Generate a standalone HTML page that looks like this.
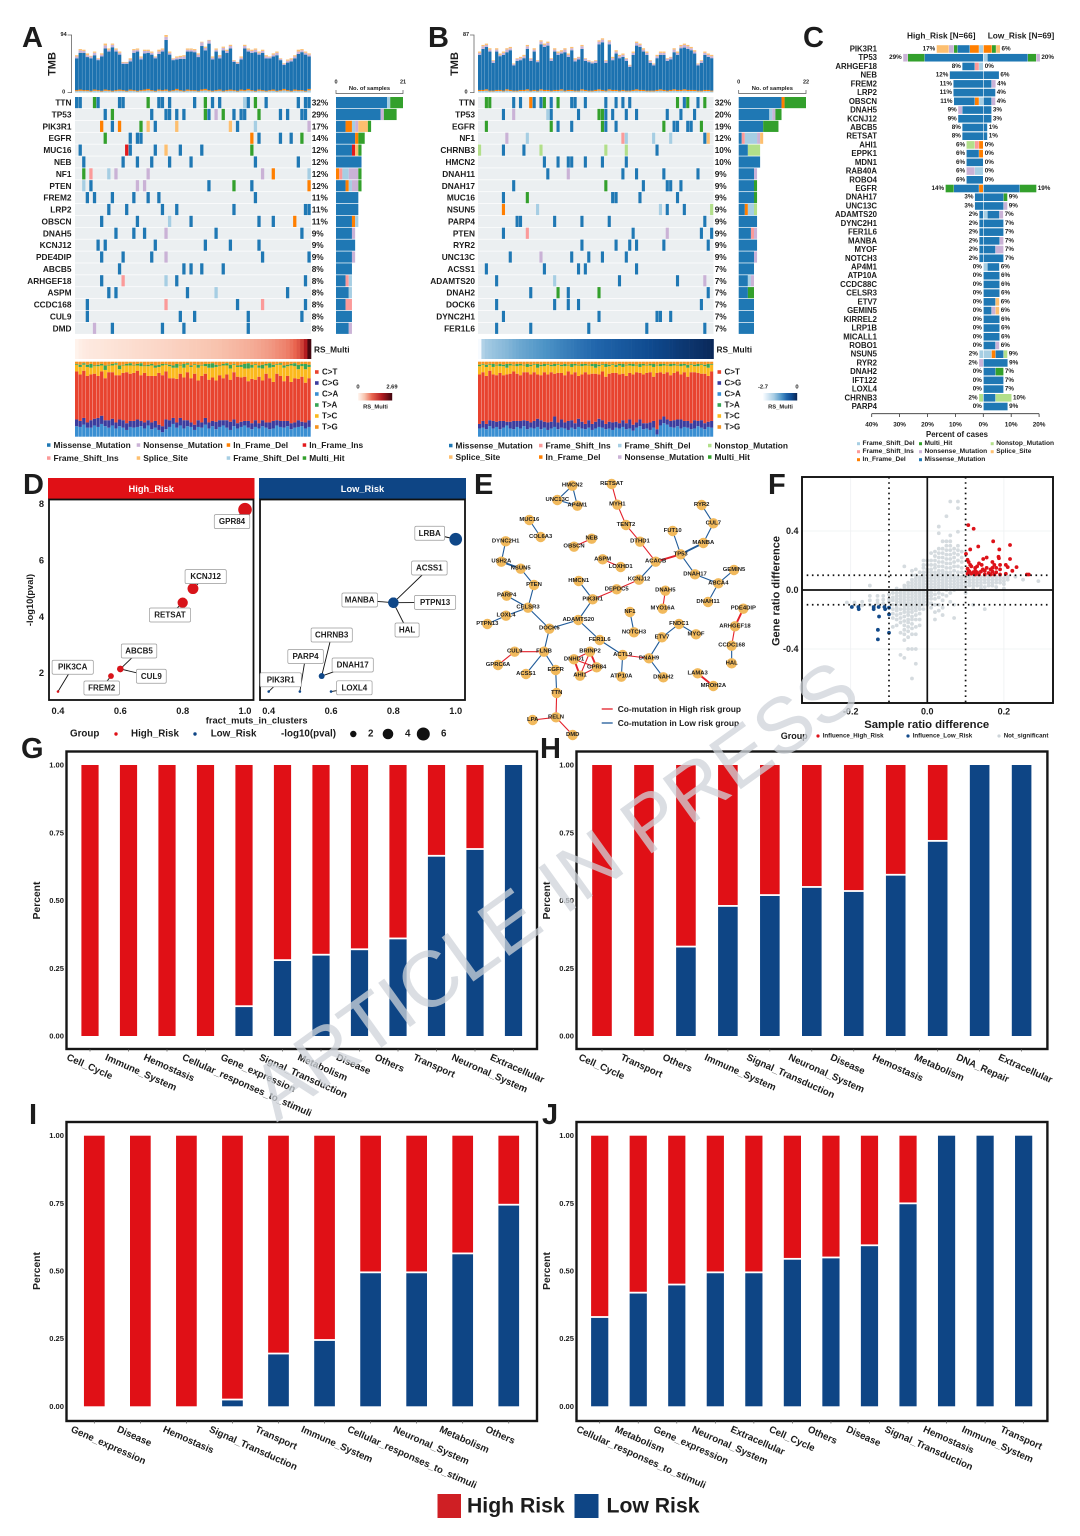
<!DOCTYPE html>
<html lang="en">
<head>
<meta charset="utf-8">
<title>Multi-panel mutation landscape figure</title>
<style>
html,body{margin:0;padding:0;background:#fff;width:1080px;height:1536px;overflow:hidden}
svg{display:block;font-family:"Liberation Sans",Arial,sans-serif;font-weight:bold;filter:blur(0.35px)}
text{fill:#1c1c1c}
</style>
</head>
<body>
<svg id="fig" xmlns="http://www.w3.org/2000/svg" width="1080" height="1536" viewBox="0 0 1080 1536">
<rect x="0" y="0" width="1080" height="1536" fill="#fff"/>
<g id="panelA"></g>
<g id="panelB"></g>
<g id="panelC"></g>
<g id="panelD"></g>
<g id="panelE"></g>
<g id="panelF"></g>
<g id="panelG"></g>
<g id="panelH"></g>
<g id="panelI"></g>
<g id="panelJ"></g>
<g font-size="29" style="font-weight:bold">
<text x="22" y="47">A</text>
<text x="428" y="47">B</text>
<text x="803" y="47">C</text>
<text x="23" y="494">D</text>
<text x="474" y="494">E</text>
<text x="768" y="494">F</text>
<text x="21" y="758">G</text>
<text x="540" y="758">H</text>
<text x="29" y="1124">I</text>
<text x="542" y="1124">J</text>
</g>
<g>
<rect x="437.5" y="1494" width="23.5" height="24" fill="#cf1f24"/>
<text x="467" y="1512.5" font-size="21.2">High Risk</text>
<rect x="574.5" y="1494" width="24" height="24" fill="#0e4585"/>
<text x="606.5" y="1512.5" font-size="21.2">Low Risk</text>
</g>
<text x="554" y="917" text-anchor="middle" font-size="79" transform="rotate(-35.7 554 889)" style="font-weight:normal;fill:#cfd4da" opacity="0.75">ARTICLE IN PRESS</text>
</svg>
<script>
/* ---------- Panel A data ---------- */
const genesA = ['TTN','TP53','PIK3R1','EGFR','MUC16','NEB','NF1','PTEN','FREM2','LRP2','OBSCN','DNAH5','KCNJ12','PDE4DIP','ABCB5','ARHGEF18','ASPM','CCDC168','CUL9','DMD'];
const pctsA = ['32%','29%','17%','14%','12%','12%','12%','12%','11%','11%','11%','9%','9%','9%','8%','8%','8%','8%','8%','8%'];
const mutsA = [
'M0 M1 H5 M6 M12 M13 H20 M23 M24 M26 M33 H36 M38 M40 L47 M48 H50 M53 M62 M64 M65',
'M8 H10 M21 M25 M26 M28 M30 H36 M37 N39 H41 M44 M46 M47 H51 M57 M59 M63 M64',
'D7 M10 D12 H18 S20 M22 S28 S43 M45 L50 N65',
'H8 M15 M17 M18 D49 M51 M57 M60 H63',
'M1 I14 M15 M22 S25 M29 M35 H49',
'M2 M13 M17 M21 M26 M32 M50 M62',
'H2 F4 L9 N11 N20 N52 D55 L65',
'L2 M4 N17 N19 M37 H44 M49 D65',
'M3 M5 M10 M16 M20 M23 M50',
'M9 M14 M24 M28 M44 M64 M65',
'M7 M17 L26 M32 M51 M55 D61',
'M11 M16 M19 N25 M39 M63',
'M6 M8 M22 M36 M43 M51',
'M7 M13 M21 N25 M52 M65',
'M12 M30 M32 M35 M41',
'M7 F13 L25 M28 M64',
'M9 M11 M31 L39 M59',
'M3 F25 M45 F52 M64',
'M3 M29 M33 M48 M63',
'N5 M10 M24 M30 M48'];
const tmbA = [61,71,70,64,60,67,56,64,80,72,80,72,67,50,50,56,71,72,59,70,70,67,59,70,72,94,67,56,59,60,61,72,72,71,64,83,75,86,59,72,61,75,70,78,53,50,59,78,72,70,72,67,70,61,59,64,67,56,48,54,56,61,70,71,67,64];
const lowA = [4,5,4,4,3,5,4,3,5,4,3,4,5,4,3,5,4,3,4,5,6,4,3,5,4,5,3,4,6,4,3,5,4,4,3,5,6,4,3,4,5,3,4,5,4,3,5,4,6,4,3,5,4,3,4,5,3,4,6,4,3,5,4,4,3,6];
const nonsA = [3,4,3,3,3,4,2,3,5,3,4,3,3,2,2,3,4,3,3,4,3,3,2,4,3,5,3,2,3,3,4,3,3,3,4,6,4,5,3,3,3,4,3,4,2,2,3,4,3,3,4,3,3,3,2,3,4,2,2,3,3,3,4,3,3,3];
const spliceA = [2,2,2,3,1,2,1,2,3,2,2,2,2,1,1,2,2,2,2,2,2,2,1,3,2,3,2,1,2,2,2,2,2,2,2,1,2,1,2,2,2,2,2,2,1,1,2,2,2,2,2,2,2,2,1,2,2,1,1,2,2,2,3,2,2,2];
const rsA = [0,.05,.08,.1,.11,.12,.13,.14,.15,.16,.17,.18,.19,.2,.21,.22,.23,.24,.25,.26,.27,.28,.29,.3,.31,.32,.33,.35,.36,.37,.38,.39,.41,.42,.43,.45,.46,.47,.49,.5,.51,.53,.54,.56,.57,.58,.6,.62,.63,.65,.67,.69,.72,.74,.77,.8,.84,.87,.9,.95,1.02,1.1,1.25,1.5,1.9,2.69];
const specCA_A = [14,13,16,12,12,15,13,17,14,12,15,11,14,12,9,13,12,13,14,11,15,10,12,9,6,10,13,17,12,15,11,14,13,9,13,12,16,11,14,10,13,15,12,9,14,11,13,15,12,10,13,11,14,12,10,11,15,13,12,14,10,12,13,14,11,13];
const specCG_A = [9,8,9,7,10,9,12,11,8,10,9,8,9,10,9,8,9,10,7,8,7,9,9,7,8,13,9,8,7,10,11,8,6,7,9,7,9,8,7,10,9,7,10,11,9,7,7,6,9,8,9,7,8,7,9,10,7,8,9,7,8,7,9,6,8,9];
const specTC_A = [9,10,8,12,9,10,13,8,11,9,9,14,8,10,9,11,10,7,12,9,13,14,11,8,13,9,16,14,15,11,13,10,15,12,17,14,10,16,13,18,12,17,12,15,10,13,14,11,17,15,20,12,16,11,14,20,12,15,18,13,22,16,13,14,18,15];
const specTA_A = [1,3,2,3,5,1,2,2,6,1,2,2,5,1,2,3,1,2,4,1,2,2,3,3,2,1,2,3,5,1,5,2,2,1,4,1,3,5,6,3,1,2,3,5,1,2,3,6,7,4,1,3,5,2,6,3,1,2,3,2,2,4,6,3,7,3];
const specTG_A = [3,4,2,4,3,5,4,3,5,4,3,2,5,4,3,2,4,3,2,5,4,3,5,4,3,3,4,5,3,4,3,2,5,3,4,4,3,3,2,4,5,3,2,4,3,5,4,3,2,4,3,5,4,3,2,4,3,2,5,4,3,2,4,3,3,4];
const legendNamesA = [['Missense_Mutation','M'],['Nonsense_Mutation','N'],['In_Frame_Del','D'],['In_Frame_Ins','I'],['Frame_Shift_Ins','F'],['Splice_Site','S'],['Frame_Shift_Del','L'],['Multi_Hit','H']];

/* ---------- Panel B data ---------- */
const genesB = ['TTN','TP53','EGFR','NF1','CHRNB3','HMCN2','DNAH11','DNAH17','MUC16','NSUN5','PARP4','PTEN','RYR2','UNC13C','ACSS1','ADAMTS20','DNAH2','DOCK6','DYNC2H1','FER1L6'];
const pctsB = ['32%','20%','19%','12%','10%','10%','9%','9%','9%','9%','9%','9%','9%','9%','7%','7%','7%','7%','7%','7%'];
const mutsB = [
'H2 H3 M10 M12 D15 M16 M18 H19 M21 H23 M27 M28 M31 M37 M40 M42 M44 H58 M60 H61 M64 H66',
'M7 N10 L20 M21 M29 H35 H36 M37 M39 M43 M46 M55 M59 M63',
'H2 H21 M23 M27 M37 M40 H54 M57 M58 M61 M62 H65 H36',
'N8 L14 F42 L43 L51 L56 M66 S67',
'O0 M7 M13 O18 O37 O43 M52',
'M19 M23 M26 M27 M31 M36 M43',
'M20 N26 M42 M46 M54 M64',
'M10 H37 M48 M55 M56 M59',
'M7 H14 M39 M40 M47 M58',
'D7 L17 L53 M55 M60 O68',
'M11 M12 M22 M30 M38 M66',
'M7 F14 M45 N55 M65 M68',
'M30 M40 M44 M46 M54 M67',
'M9 N18 M27 M32 M36 M43',
'M2 M19 M29 M31 M46',
'M5 L22 M41 M58 N66',
'M15 H23 M26 H35 M67',
'M5 M22 M26 M29 M65',
'M7 M35 M52 M53 M56',
'M5 M15 M32 M49 M66'];
const tmbB = [62,72,74,67,49,67,59,62,67,69,44,52,54,57,72,52,67,49,79,74,77,52,67,62,64,67,59,69,52,54,72,52,49,47,49,79,82,49,79,54,64,57,59,52,42,62,77,74,67,62,49,44,57,62,62,52,54,67,62,72,74,72,69,64,44,49,62,59,57];
const lowB = [4,4,5,3,3,4,4,3,5,4,3,3,4,4,5,3,4,3,5,4,4,3,4,4,5,3,4,4,3,3,5,4,3,3,4,5,4,3,5,4,4,3,4,3,3,4,5,4,4,3,3,3,4,5,4,3,4,5,4,4,5,4,4,4,3,3,4,4,3];
const nonsB = [3,4,3,3,3,3,2,3,4,3,2,3,3,3,4,3,3,2,4,3,4,3,3,3,3,4,3,3,3,3,4,3,2,2,3,4,4,3,4,3,3,3,3,3,2,3,4,3,3,3,3,2,3,3,3,3,3,4,3,3,4,4,3,3,2,3,3,3,3];
const spliceB = [2,2,2,2,1,2,2,2,2,2,1,1,2,2,2,1,2,1,2,2,2,1,2,2,2,2,2,2,2,1,2,1,1,1,1,2,2,1,2,2,2,2,2,1,1,2,2,2,2,2,1,1,2,2,2,1,1,2,2,2,2,2,2,2,1,1,2,2,2];
const rsB = [-2.7,-1.95,-1.82,-1.78,-1.74,-1.7,-1.67,-1.64,-1.6,-1.55,-1.5,-1.46,-1.42,-1.39,-1.36,-1.33,-1.3,-1.27,-1.24,-1.21,-1.18,-1.15,-1.12,-1.09,-1.06,-1.03,-1,-.98,-.95,-.92,-.9,-.87,-.85,-.82,-.8,-.77,-.75,-.72,-.7,-.68,-.65,-.63,-.6,-.58,-.55,-.53,-.5,-.48,-.45,-.43,-.4,-.38,-.36,-.34,-.32,-.3,-.27,-.25,-.22,-.2,-.18,-.16,-.14,-.12,-.1,-.08,-.05,-.03,0];
const specCA_B = [11,12,10,14,11,13,10,12,15,11,10,13,11,14,10,12,11,13,10,12,9,11,13,10,12,11,9,12,10,13,11,10,12,9,11,13,12,10,11,9,12,11,13,10,11,8,12,14,10,11,9,12,3,15,18,16,13,12,14,11,13,12,10,11,14,12,10,13,12];
const specCG_B = [6,9,7,8,10,7,11,9,5,9,11,8,10,8,11,7,10,11,12,8,10,9,14,9,11,8,12,10,8,11,9,7,10,8,9,11,10,7,9,10,8,7,9,8,12,8,7,9,8,7,10,9,7,8,9,7,8,10,9,12,8,9,8,11,7,10,8,7,9];
const specTC_B = [11,10,12,8,10,13,9,12,9,11,8,10,13,9,7,11,10,9,12,8,13,8,10,11,9,12,8,10,9,14,11,9,12,10,8,11,9,13,10,11,8,12,9,14,10,11,9,8,12,10,9,13,10,8,11,9,12,10,8,11,9,12,10,8,9,12,10,11,9];
const specTA_B = [2,1,3,1,4,1,3,2,5,2,1,3,2,1,4,2,1,5,2,3,1,2,3,1,2,3,1,4,2,1,3,2,1,3,5,2,1,4,2,1,3,2,4,1,2,3,1,4,2,1,2,4,1,3,2,1,3,2,1,3,2,4,1,2,3,1,2,5,1];
const specTG_B = [4,3,4,3,3,4,3,4,3,3,4,3,3,4,3,4,3,3,4,3,3,4,3,3,4,3,4,3,3,4,3,3,4,3,3,4,3,3,4,3,4,3,3,4,3,3,4,3,3,4,3,3,4,3,3,4,3,3,4,3,3,4,3,4,3,3,4,3,3];
const legendNamesB = [['Missense_Mutation','M'],['Frame_Shift_Ins','F'],['Frame_Shift_Del','L'],['Nonstop_Mutation','O'],['Splice_Site','S'],['In_Frame_Del','D'],['Nonsense_Mutation','N'],['Multi_Hit','H']];
const spectrumNames = ['C>T','C>G','C>A','T>A','T>C','T>G'];

/* ---------- Panel C data ---------- */
const cGenes = ['PIK3R1','TP53','ARHGEF18','NEB','FREM2','LRP2','OBSCN','DNAH5','KCNJ12','ABCB5','RETSAT','AHI1','EPPK1','MDN1','RAB40A','ROBO4','EGFR','DNAH17','UNC13C','ADAMTS20','DYNC2H1','FER1L6','MANBA','MYOF','NOTCH3','AP4M1','ATP10A','CCDC88C','CELSR3','ETV7','GEMIN5','KIRREL2','LRP1B','MICALL1','ROBO1','NSUN5','RYR2','DNAH2','IFT122','LOXL4','CHRNB3','PARP4'];
const cHighPct = ['17%','29%','8%','12%','11%','11%','11%','9%','9%','8%','8%','6%','6%','6%','6%','6%','14%','3%','3%','2%','2%','2%','2%','2%','2%','0%','0%','0%','0%','0%','0%','0%','0%','0%','0%','2%','2%','0%','0%','0%','2%','0%'];
const cLowPct = ['6%','20%','0%','6%','4%','4%','4%','3%','3%','1%','1%','0%','0%','0%','0%','0%','19%','9%','9%','7%','7%','7%','7%','7%','7%','6%','6%','6%','6%','6%','6%','6%','6%','6%','6%','9%','9%','7%','7%','7%','10%','9%'];
const cHighSegs = ['L1.5 D3.3 M4.4 H1.3 N1.8 S4.4','M21 H6 N1.7','L1.5 F1.5 M4.5','M12','M10.7','M10.7','L1.5 D1.5 M7.5','M7.5 N1.5','M9','M7.5','M7.5','D1.5 F1.5 O3','D1.5 M4.5','M6','L3 N3','M6','D1.5 M9 H3','M3','M3','M1.4','M1.4','M1.4','M1.4','M1.4','M1.4','','','','','','','','','','','L1.4','N1.5','','','','O1.5',''];
const cLowSegs = ['D3 H1.5 S1.5','L1.4 M14.5 H3 N1.4','','M5.6','M2.9 N1.5','M4.3','M2.9 N1.4','M2.9','M2.9','M1.4','M1.4','','','','','','M13 H6','M7.2 H1.4','M7.2 N1.4','L1.4 M4.3 N1.4','M7.2','M7.2','M5.8 N1.4','M4.3 N2.9','M7.2','L1.4 M4.3','M5.8','M5.8','M5.8','M4.3 S1.4','M2.9 N1.4 S1.4','M5.8','M5.8','M5.8','M4.3 N1.4','L2.9 D1.4 M2.9 O1.4','M8.7','M4.3 H2.9','M7.2','M7.2','M4.3 O5.8','M8.7'];
const cTicks = [40,30,20,10,0,10,20];
const cTickSigned = [-40,-30,-20,-10,0,10,20];

/* ---------- Panel D data ---------- */
const dHighNames = ['PIK3CA','FREM2','ABCB5','CUL9','RETSAT','KCNJ12','GPR84'];
const dHighFract = [0.4,0.57,0.6,0.6,0.8,0.833,1.0];
const dHighLogP = [1.35,1.9,2.15,2.15,4.5,5.0,7.8];
const dLowNames = ['PIK3R1','PARP4','LOXL4','DNAH17','CHRNB3','MANBA','ACSS1','PTPN13','HAL','LRBA'];
const dLowFract = [0.4,0.5,0.6,0.57,0.57,0.8,0.8,0.8,0.8,1.0];
const dLowLogP = [1.35,1.35,1.35,1.9,1.9,4.5,4.5,4.5,4.5,6.75];
const dXTicks = [0.4,0.6,0.8,1.0];
const dYTicks = [2,4,6,8];

/* ---------- Panel E network ---------- */
const netNames = ['HMCN2','UNC13C','AP4M1','RETSAT','MYH1','TENT2','DTHD1','ACACB','RYR2','CUL7','FUT10','MANBA','TP53','MUC16','COL6A3','NEB','OBSCN','DYNC2H1','USH2A','NSUN5','ASPM','LOXHD1','PTEN','HMCN1','DNAH17','GEMIN5','ABCA4','KCNJ12','DEPDC5','PIK3R1','DNAH5','MYO16A','DNAH11','PDE4DIP','PARP4','CELSR3','LOXL4','PTPN13','NF1','NOTCH3','FNDC1','MYOF','ETV7','ARHGEF18','ADAMTS20','DOCK6','FER1L6','CCDC168','HAL','CUL9','FLNB','GPRC6A','ACSS1','EGFR','BRINP2','DNHD1','GPR84','AHI1','ACTL9','DNAH9','ATP10A','DNAH2','LAMA3','MROH2A','TTN','RELN','LPA','DMD'];
const netLayoutX = [307,262,322,425,442,468,510,557,695,730,608,700,632,178,212,365,312,107,94,152,398,452,192,326,675,792,745,507,440,368,586,578,714,820,110,174,108,52,480,492,627,678,576,795,325,238,389,785,785,134,222,84,168,257,360,312,380,330,458,537,454,580,683,730,260,258,188,308];
const netLayoutY = [62,105,122,57,119,180,230,290,120,175,198,234,268,165,216,221,245,229,290,311,283,306,360,348,328,315,355,344,373,403,377,431,411,431,392,428,452,477,441,502,477,508,517,484,465,491,525,542,595,560,560,600,627,615,560,583,607,632,570,580,635,637,625,663,684,757,765,810];
const netEdges = ['HMCN2-UNC13C b','HMCN2-AP4M1 b','UNC13C-AP4M1 b','RETSAT-MYH1 r','MYH1-TENT2 r','TENT2-DTHD1 r','DTHD1-ACACB r','ACACB-TP53 R','ACACB-KCNJ12 b','KCNJ12-DEPDC5 r','DEPDC5-PIK3R1 r','RYR2-CUL7 b','CUL7-MANBA b','MANBA-TP53 B','FUT10-TP53 b','TP53-DNAH17 b','DNAH17-ABCA4 b','ABCA4-GEMIN5 b','ABCA4-DNAH11 b','MUC16-COL6A3 b','NEB-OBSCN r','DYNC2H1-USH2A b','USH2A-NSUN5 B','NSUN5-PTEN b','PTEN-CELSR3 b','PARP4-CELSR3 b','CELSR3-LOXL4 b','LOXL4-PTPN13 b','CELSR3-DOCK6 b','DOCK6-ADAMTS20 b','ADAMTS20-PIK3R1 b','HMCN1-PIK3R1 b','ADAMTS20-FER1L6 b','FER1L6-ACTL9 b','ACTL9-DNAH9 r','ACTL9-ATP10A b','DNAH9-DNAH2 b','DNAH9-ETV7 b','ETV7-FNDC1 b','FNDC1-MYOF b','ASPM-LOXHD1 r','DNAH5-MYO16A r','NF1-NOTCH3 b','PDE4DIP-ARHGEF18 R','ARHGEF18-CCDC168 r','CCDC168-HAL b','DOCK6-FLNB b','FLNB-CUL9 r','CUL9-GPRC6A r','FLNB-ACSS1 b','FLNB-EGFR b','EGFR-TTN b','TTN-RELN r','RELN-LPA r','RELN-DMD r','BRINP2-DNHD1 r','BRINP2-GPR84 R','DNHD1-AHI1 R','DNHD1-GPR84 r','BRINP2-AHI1 r','AHI1-GPR84 r','LAMA3-MROH2A R'];

/* ---------- Panel F data ---------- */
const redSampleDiff = [.107,.121,.133,.172,.216,.188,.112,.101,.186,.155,.146,.187,.216,.105,.135,.142,.13,.17,.175,.19,.108,.112,.115,.205,.21,.125,.155,.165,.18,.19,.233,.222,.205,.265,.105,.11,.12,.13,.14,.15,.16,.17,.18,.105,.115,.125,.135,.15,.165,.175,.19,.26,.108,.145,.17,.125];
const redGeneDiff = [.44,.415,.295,.33,.305,.275,.275,.245,.225,.22,.21,.215,.21,.205,.18,.17,.16,.19,.17,.17,.19,.17,.16,.17,.155,.15,.15,.14,.15,.14,.155,.13,.11,.105,.145,.125,.12,.12,.125,.13,.115,.125,.12,.11,.11,.105,.105,.105,.105,.105,.105,.105,.13,.14,.15,.13];
const blueSampleDiff = [-.197,-.18,-.179,-.14,-.14,-.127,-.112,-.11,-.1,-.126,-.129,-.1,-.129,-.1];
const blueGeneDiff = [-.115,-.115,-.13,-.115,-.13,-.115,-.115,-.13,-.165,-.18,-.27,-.29,-.335,-.12];
const greySampleCols = [-.21,-.19,-.17,-.15,-.13,-.115,-.1,-.09,-.08,-.07,-.06,-.05,-.04,-.03,-.02,-.01,0,.01,.02,.03,.04,.05,.06,.07,.08,.09,.1,.11,.12,.13,.14,.15,.16,.17,.18,.19,.2,.21,.23,.25,.29];
const greyGeneCols = [[-.085],[-.085,-.1],[-.08,-.105],[.03,-.04,-.07,-.1],[-.04,-.07,-.09],[-.04,-.065,-.09],[-.03,-.06,-.08],[-.02,-.05,-.07,-.1,-.13,-.16,-.19,-.25],[.01,-.02,-.04,-.06,-.08,-.1,-.12,-.14,-.17,-.2,-.24],[0,-.02,-.04,-.06,-.08,-.1,-.13,-.16,-.19,-.22,-.29,-.44],[.16,.03,.01,-.01,-.03,-.05,-.07,-.09,-.11,-.13,-.15,-.18,-.21,-.24,-.27,-.3,-.34,-.46],[.05,.03,.01,-.01,-.03,-.05,-.07,-.09,-.11,-.13,-.15,-.17,-.2,-.22,-.25,-.28,-.32,-.4],[.13,.1,.07,.05,.03,.01,-.01,-.03,-.05,-.07,-.09,-.11,-.13,-.15,-.18,-.2,-.23,-.26,-.3,-.4,-.6],[.14,.1,.08,.06,.04,.02,0,-.02,-.04,-.06,-.08,-.1,-.12,-.14,-.17,-.2,-.25,-.3,-.4,-.5],[.12,.09,.07,.05,.03,.01,-.01,-.03,-.05,-.07,-.09,-.11,-.13,-.16,-.2,-.24],[.2,.17,.15,.12,.1,.08,.06,.04,.02,0,-.02,-.04,-.06,-.08,-.1,-.13],[.2,.17,.14,.12,.1,.08,.06,.04,.02,0,-.02,-.04,-.06,-.08,-.1],[.25,.2,.17,.14,.12,.1,.08,.06,.04,.02,0,-.02,-.04,-.06,-.09,-.12],[.26,.23,.2,.17,.15,.12,.1,.08,.06,.04,.02,0,-.03,-.06,-.1,-.15,-.2],[.43,.385,.28,.25,.22,.19,.16,.13,.11,.09,.07,.05,.03,.01,-.02,-.05,-.1,-.14],[.33,.28,.25,.22,.19,.16,.13,.11,.09,.07,.05,.03,.01,-.03,-.07,-.12,-.17],[.5,.33,.3,.27,.24,.21,.18,.15,.12,.1,.08,.06,.04,.02,0,-.04],[.6,.37,.33,.3,.27,.24,.21,.18,.15,.12,.1,.08,.06,.04,.02,-.02,-.08],[.28,.25,.22,.19,.16,.13,.1,.08,.06,.04,.02,0,-.1,-.19],[.6,.555,.395,.3,.27,.24,.2,.16,.12,.09,.07,.05,.03,.01],[.26,.22,.19,.15,.12,.09,.07,.05,.03,.01],[.09,.07,.05,.03,.01,-.02],[.09,.07,.05,.03],[.09,.07,.05,.03,.01,-.1],[.09,.07,.05,.03],[.09,.07,.05,.03,.01],[.09,.07,.05,.02,-.13],[.09,.07,.05,.03],[.09,.07,.05,.03],[.09,.07,.05,.02],[.09,.07,.05],[.08,.06,.04,.01],[.09,.07],[.09],[.07],[.06]];
const fXTicks = [-0.2,0,0.2];
const fYTicks = [0.4,0,-0.4];

/* ---------- Panels G-J data ---------- */
const gCats = ['Cell_Cycle','Immune_System','Hemostasis','Cellular_responses_to_stimuli','Gene_expression','Signal_Transduction','Metabolism','Disease','Others','Transport','Neuronal_System','Extracellular'];
const gLow = [0,0,0,0,.11,.28,.30,.32,.36,.665,.69,1];
const hCats = ['Cell_Cycle','Transport','Others','Immune_System','Signal_Transduction','Neuronal_System','Disease','Hemostasis','Metabolism','DNA_Repair','Extracellular'];
const hLow = [0,0,.33,.48,.52,.55,.535,.595,.72,1,1];
const iCats = ['Gene_expression','Disease','Hemostasis','Signal_Transduction','Transport','Immune_System','Cellular_responses_to_stimuli','Neuronal_System','Metabolism','Others'];
const iLow = [0,0,0,.025,.195,.245,.495,.495,.565,.745];
const jCats = ['Cellular_responses_to_stimuli','Metabolism','Gene_expression','Neuronal_System','Extracellular','Cell_Cycle','Others','Disease','Signal_Transduction','Hemostasis','Immune_System','Transport'];
const jLow = [.33,.42,.45,.495,.495,.545,.55,.595,.75,1,1,1];
const stackTicks = [0,0.25,0.5,0.75,1];

/* ---------- helpers ---------- */
const NS = 'http://www.w3.org/2000/svg';
const MUT = {M:'#1f78b4',N:'#cab2d6',D:'#ff7f00',I:'#e31a1c',F:'#fb9a99',S:'#fdbf6f',L:'#a6cee3',H:'#33a02c',O:'#b2df8a'};
const SPEC = {ct:'#e8432f',cg:'#3b3c9e',ca:'#3a8fd2',ta:'#38a554',tc:'#fbb91d',tg:'#f7931e'};
const STACK_ORDER = 'MDIFLNSOH';
const RED = '#e01016', BLUE = '#0e4585';

function mk(parent, tag, geo, content) {
  const el = document.createElementNS(NS, tag);
  for (const k in geo) el.setAttribute(k, geo[k]);
  if (content !== undefined) el.textContent = content;
  parent.appendChild(el);
  return el;
}
function label(parent, x, y, str, size, anchor, rot) {
  const geo = {x:x, y:y, 'font-size':size, 'text-anchor':anchor || 'start', 'dominant-baseline':'central'};
  if (rot) geo.transform = 'rotate(' + rot + ' ' + x + ' ' + y + ')';
  return mk(parent, 'text', geo, str);
}
function lerpScale(stops, v) {
  let i = 0;
  while (i < stops.length - 2 && v > stops[i + 1][0]) i++;
  const a = stops[i], b = stops[i + 1];
  const t = Math.max(0, Math.min(1, (v - a[0]) / (b[0] - a[0])));
  const ch = (s, p) => parseInt(s.substr(p, 2), 16);
  const c = [1, 3, 5].map(p => Math.round(ch(a[1], p) + (ch(b[1], p) - ch(a[1], p)) * t));
  return 'rgb(' + c.join(',') + ')';
}
const rsRed = [[0,'#fff3ec'],[.5,'#f8c3ae'],[1.1,'#e9654f'],[1.9,'#b31c21'],[2.69,'#470710']];
const rsBlue = [[-2.7,'#f7fbff'],[-1.85,'#a8cde4'],[-1.2,'#4c93c6'],[-.8,'#2166ac'],[-.4,'#0f4a8f'],[0,'#0a2859']];

/* ---------- oncoplot panels ---------- */
const ROW_TOP = 97, ROW_H = 11.88, TMB_TOP = 35, TMB_BOT = 92.6;
function drawOnco(root, p) {
  const n = p.tmb.length, step = (p.x1 - p.x0) / n;
  const tmbY = v => TMB_BOT - v / p.tmbMax * (TMB_BOT - TMB_TOP);
  const sideW = v => v / p.sideMax * (p.sideX1 - p.sideX0);

  // TMB axis
  const ax = mk(root, 'path', {d:'M' + (p.axisX - 4) + ' ' + TMB_TOP + 'H' + p.axisX + 'V' + TMB_BOT + 'H' + (p.axisX - 4), fill:'none', stroke:'#666', 'stroke-width':0.8});
  
  
  const tmbMaxLabel = label(root, p.axisX - 8, TMB_TOP, String(p.tmbMax), 5.5, 'middle');
  
  
  const tmbZero = label(root, p.axisX - 8, TMB_BOT, '0', 5.5, 'middle');
  
  
  const tmbTitle = label(root, p.axisX - 19, 64, 'TMB', 11, 'middle', -90);
  
  

  // TMB bars
  p.tmb.forEach((total, i) => {
    const x = p.x0 + i * step, w = step - 0.18;
    const low = p.low[i], non = p.nons[i], spl = p.splice[i];
    const parts = [[0, low * .6, MUT.L], [low * .6, low, MUT.D], [low, total - non - spl, '#1c72b0'], [total - non - spl, total - spl, MUT.N], [total - spl, total, MUT.S]];
    parts.forEach(s => {
      const r = mk(root, 'rect', {x:x, y:tmbY(s[1]), width:w, height:Math.max(0, tmbY(s[0]) - tmbY(s[1])), fill:s[2]});
      
      
    });
  });

  // Gene rows
  p.genes.forEach((gene, r) => {
    const y = ROW_TOP + r * ROW_H, h = ROW_H - 0.7;
    const bg = mk(root, 'rect', {x:p.x0, y:y, width:p.x1 - p.x0, height:h, fill:'#ebeff1'});
    
    
    const gl = label(root, p.labelX, y + h / 2, gene, 8.3, 'end');
    
    
    const pl = label(root, p.pctX, y + h / 2, p.pcts[r], 8.3, 'start');
    
    
    const items = p.muts[r].split(' ');
    const counts = {};
    items.forEach(it => {
      const t = it[0], c = +it.slice(1);
      counts[t] = (counts[t] || 0) + 1;
      const cell = mk(root, 'rect', {x:p.x0 + c * step, y:y, width:step - 0.3, height:h, fill:MUT[t]});
      
      
    });
    let sx = p.sideX0;
    STACK_ORDER.split('').forEach(t => {
      if (!counts[t]) return;
      const w = sideW(counts[t]);
      const b = mk(root, 'rect', {x:sx, y:y, width:w, height:h, fill:MUT[t]});
      
      
      sx += w;
    });
  });

  // Side axis
  const sa = mk(root, 'path', {d:'M' + p.sideX0 + ' 90V93.5H' + p.sideX1 + 'V90', fill:'none', stroke:'#555', 'stroke-width':0.7});
  
  
  const s0 = label(root, p.sideX0, 82.5, '0', 5.5, 'middle');
  
  
  const s1 = label(root, p.sideX1, 82.5, String(p.sideMax), 5.5, 'middle');
  
  
  const st = label(root, (p.sideX0 + p.sideX1) / 2, 89, 'No. of samples', 5.8, 'middle');
  
  

  // RS strip
  p.rs.forEach((v, i) => {
    const c = mk(root, 'rect', {x:p.x0 + i * step, y:339, width:step + 0.3, height:20, fill:lerpScale(p.rsStops, v)});
    
    
  });
  const rl = label(root, p.x1 + 3, 349.5, 'RS_Multi', 8.3);
  
  

  // Spectrum
  const specTop = 361.7, specH = 75;
  p.tmb.forEach((_, i) => {
    const x = p.x0 + i * step, w = step - 0.3;
    const ca = p.ca[i], cg = p.cg[i], tc = p.tc[i], ta = p.ta[i], tg = p.tg[i];
    const ct = 100 - ca - cg - tc - ta - tg;
    let acc = 0;
    [[ca,SPEC.ca],[cg,SPEC.cg],[ct,SPEC.ct],[tc,SPEC.tc],[ta,SPEC.ta],[tg,SPEC.tg]].forEach(s => {
      const h = s[0] / 100 * specH;
      const sr = mk(root, 'rect', {x:x, y:specTop + specH - acc - h, width:w, height:h, fill:s[1]});
      
      
      acc += h;
    });
  });
  const specColors = [SPEC.ct, SPEC.cg, SPEC.ca, SPEC.ta, SPEC.tc, SPEC.tg];
  spectrumNames.forEach((name, i) => {
    const yy = 372 + i * 11;
    const sq = mk(root, 'rect', {x:p.x1 + 4, y:yy - 1.8, width:3.6, height:3.6, fill:specColors[i]});
    
    
    const tx = label(root, p.x1 + 11, yy, name, 8);
    
    
  });

  // RS legend
  const cells = 34;
  for (let i = 0; i < cells; i++) {
    const t = i / (cells - 1);
    const lo = p.rsStops[0][0], hi = p.rsStops[p.rsStops.length - 1][0];
    const g = mk(root, 'rect', {x:p.rsLegX + i, y:393, width:1.2, height:7.5, fill:lerpScale(p.rsStops, lo + (hi - lo) * t)});
    
    
  }
  const l0 = label(root, p.rsLegX, 387.5, p.rsLo, 5.8, 'middle');
  
  
  const l1 = label(root, p.rsLegX + 34, 387.5, p.rsHi, 5.8, 'middle');
  
  
  const l2 = label(root, p.rsLegX + 17.5, 407.5, 'RS_Multi', 5.8, 'middle');
  
  

  // Variant legend
  p.legend.forEach((e, i) => {
    const row = i < 4 ? 0 : 1, col = i % 4;
    const yy = p.legY[row];
    const sq = mk(root, 'rect', {x:p.legX[col], y:yy - 1.7, width:3.5, height:3.5, fill:MUT[e[1]]});
    
    
    const tx = label(root, p.legX[col] + 6.5, yy, e[0], 8.4);
    
    
  });
}
drawOnco(document.getElementById('panelA'), {
  x0:75, x1:311, axisX:71.6, labelX:71.5, pctX:311.7, sideX0:336, sideX1:403, sideMax:21, tmbMax:94,
  genes:genesA, pcts:pctsA, muts:mutsA, tmb:tmbA, low:lowA, nons:nonsA, splice:spliceA, rs:rsA, rsStops:rsRed,
  ca:specCA_A, cg:specCG_A, tc:specTC_A, ta:specTA_A, tg:specTG_A, rsLegX:358, rsLo:'0', rsHi:'2.69',
  legend:legendNamesA, legX:[47,136.7,226.7,302.7], legY:[445,458]
});
drawOnco(document.getElementById('panelB'), {
  x0:478, x1:713.5, axisX:474, labelX:475, pctX:714.7, sideX0:738.7, sideX1:806, sideMax:22, tmbMax:87,
  genes:genesB, pcts:pctsB, muts:mutsB, tmb:tmbB, low:lowB, nons:nonsB, splice:spliceB, rs:rsB, rsStops:rsBlue,
  ca:specCA_B, cg:specCG_B, tc:specTC_B, ta:specTA_B, tg:specTG_B, rsLegX:763, rsLo:'-2.7', rsHi:'0',
  legend:legendNamesB, legX:[449,539,618,708], legY:[445.5,457]
});

/* ---------- Panel C ---------- */
(function () {
  const root = document.getElementById('panelC');
  const cx = 983.3, pctPx = 2.79, top = 49, step = 8.72, h = 7.6;
  const xOf = v => cx + v * pctPx;
  cGenes.forEach((g, r) => {
    const y = top + r * step;
    const gl = label(root, 877, y, g, 7.8, 'end');
    
    
    let acc = 0;
    (cHighSegs[r] ? cHighSegs[r].split(' ') : []).forEach(s => {
      const v = +s.slice(1);
      const b = mk(root, 'rect', {x:xOf(-acc - v), y:y - h / 2, width:v * pctPx - 0.3, height:h, fill:MUT[s[0]]});
      
      
      acc += v;
    });
    const lp = label(root, xOf(-acc) - 1.5, y, cHighPct[r], 6.3, 'end');
    
    
    acc = 0;
    (cLowSegs[r] ? cLowSegs[r].split(' ') : []).forEach(s => {
      const v = +s.slice(1);
      const b = mk(root, 'rect', {x:xOf(acc) + 0.3, y:y - h / 2, width:v * pctPx - 0.3, height:h, fill:MUT[s[0]]});
      
      
      acc += v;
    });
    const rp = label(root, xOf(acc) + 1.5, y, cLowPct[r], 6.3, 'start');
    
    
  });
  const axisLine = mk(root, 'line', {x1:xOf(-40), x2:xOf(20), y1:413.7, y2:413.7, stroke:'#333', 'stroke-width':0.9});
  
  
  cTickSigned.forEach((v, i) => {
    const t = mk(root, 'line', {x1:xOf(v), x2:xOf(v), y1:413.7, y2:417, stroke:'#333', 'stroke-width':0.8});
    
    
    const l = label(root, xOf(v), 425, cTicks[i] + '%', 6.4, 'middle');
    
    
  });
  const at = label(root, 957, 434.5, 'Percent of cases', 7.8, 'middle');
  
  
  const hh = label(root, 907, 35.5, 'High_Risk [N=66]', 8.3);
  
  
  const lh = label(root, 987.7, 35.5, 'Low_Risk [N=69]', 8.3);
  
  
  [[857,443.7,'Frame_Shift_Del','L'],[857,451.7,'Frame_Shift_Ins','F'],[857,459.7,'In_Frame_Del','D'],[919,443.7,'Multi_Hit','H'],[919,451.7,'Nonsense_Mutation','N'],[919,459.7,'Missense_Mutation','M'],[990.7,443.7,'Nonstop_Mutation','O'],[990.7,451.7,'Splice_Site','S']].forEach(e => {
    const sq = mk(root, 'rect', {x:e[0], y:e[1] - 1.5, width:3, height:3, fill:MUT[e[3]]});
    
    
    const t = label(root, e[0] + 5.5, e[1], e[2], 6.6);
    
    
  });
})();

/* ---------- Panel D ---------- */
(function () {
  const root = document.getElementById('panelD');
  const yOf = v => 504 + (8 - v) * 28.2;
  const rOf = v => 1.3 + 5.5 * Math.sqrt(Math.max(0, v - 1.35) / 6.45);
  function facet(p) {
    const xOf = v => p.xAt04 + (v - 0.4) * 311.7;
    const strip = mk(root, 'rect', {x:p.left, y:478, width:p.w, height:21, fill:p.color});
    
    
    const stripText = label(root, p.left + p.w / 2, 489, p.title, 9.3, 'middle');
    stripText.style.fill = '#fff';
    
    
    const box = mk(root, 'rect', {x:p.left + 1, y:499.5, width:p.w - 2, height:200.5, fill:'#fff', stroke:'#111', 'stroke-width':1.8});
    
    
    dXTicks.forEach(v => {
      const t = label(root, xOf(v), 711, v.toFixed(1), 9.3, 'middle');
      
      
    });
    p.fract.forEach((fx, i) => {
      const px = xOf(fx), py = yOf(p.logp[i]);
      const lx = px + p.nudge[i][0], ly = py + p.nudge[i][1];
      const ln = mk(root, 'line', {x1:px, y1:py, x2:lx, y2:ly, stroke:'#111', 'stroke-width':0.9});
      
      
    });
    p.fract.forEach((fx, i) => {
      const dot = mk(root, 'circle', {cx:xOf(fx), cy:yOf(p.logp[i]), r:rOf(p.logp[i]), fill:p.dot});
      
      
    });
    p.fract.forEach((fx, i) => {
      const lx = xOf(fx) + p.nudge[i][0], ly = yOf(p.logp[i]) + p.nudge[i][1];
      const w = p.names[i].length * 5.7 + 7;
      const tag = mk(root, 'rect', {x:lx - w / 2, y:ly - 7, width:w, height:14, rx:1.5, fill:'#fff', stroke:'#9a9a9a', 'stroke-width':0.7});
      
      
      const tx = label(root, lx, ly, p.names[i], 8, 'middle');
      
      
    });
  }
  facet({left:48, w:206.5, color:RED, dot:'#d8141a', title:'High_Risk', xAt04:58, fract:dHighFract, logp:dHighLogP, names:dHighNames,
    nudge:[[14.7,-24.3],[-9.3,12],[18.7,-18],[31,7.3],[-12.7,12.3],[12.7,-12],[-13,12]]});
  facet({left:259, w:207, color:BLUE, dot:'#0f4788', title:'Low_Risk', xAt04:268.7, fract:dLowFract, logp:dLowLogP, names:dLowNames,
    nudge:[[12,-11.7],[5.7,-35],[23.3,-3.7],[31,-11],[10,-41],[-33.7,-2.7],[36,-34.7],[41.7,-0.3],[13.7,27.3],[-26,-6]]});
  dYTicks.forEach(v => {
    const t = label(root, 44, yOf(v), String(v), 9.3, 'end');
    
    
  });
  const yt = label(root, 30, 600, '-log10(pval)', 9.3, 'middle', -90);
  
  
  const xt = label(root, 256.7, 720.7, 'fract_muts_in_clusters', 9.3, 'middle');
  
  
  [['Group',70],['High_Risk',131],['Low_Risk',210.7],['-log10(pval)',281],['2',368],['4',405],['6',441]].forEach(e => {
    const t = label(root, e[1], 734, e[0], 9.8);
    
    
  });
  [[116,1.7,RED],[195,1.7,BLUE],[353.3,3.2,'#111'],[388,5.3,'#111'],[423.3,6.5,'#111']].forEach(e => {
    const c = mk(root, 'circle', {cx:e[0], cy:734, r:e[1], fill:e[2]});
    
    
  });
})();

/* ---------- Panel E ---------- */
(function () {
  const root = document.getElementById('panelE');
  const px = i => 470 + netLayoutX[i] / 3, py = i => 465 + netLayoutY[i] / 3;
  netEdges.forEach(e => {
    const parts = e.split(' '), ends = parts[0].split('-');
    const a = netNames.indexOf(ends[0]), b = netNames.indexOf(ends[1]);
    const kind = parts[1];
    const colour = kind.toLowerCase() === 'r' ? '#e3202a' : '#1f5a99';
    const l = mk(root, 'line', {x1:px(a), y1:py(a), x2:px(b), y2:py(b), stroke:colour, 'stroke-width':kind === kind.toUpperCase() ? 1.9 : 1.1});
    
    
  });
  netNames.forEach((name, i) => {
    const c = mk(root, 'circle', {cx:px(i), cy:py(i), r:5.2, fill:'#f1b95c'});
    
    
  });
  netNames.forEach((name, i) => {
    const t = label(root, px(i), py(i), name, 5.9, 'middle');
    
    
  });
  [[709,'#e3202a','Co-mutation in High risk group'],[723,'#1f5a99','Co-mutation in Low risk group']].forEach(e => {
    const l = mk(root, 'line', {x1:601.7, x2:612.7, y1:e[0], y2:e[0], stroke:e[1], 'stroke-width':1.3});
    
    
    const t = label(root, 617.7, e[0], e[2], 8.4);
    
    
  });
})();

/* ---------- Panel F ---------- */
(function () {
  const root = document.getElementById('panelF');
  const xOf = v => 927.3 + v * 383;
  const yOf = v => 590 - v * 147.5;
  const L = 802, R = 1053, T = 477, B = 703;
  const bg = mk(root, 'rect', {x:L, y:T, width:R - L, height:B - T, fill:'#fff'});
  
  
  fXTicks.forEach(v => {
    const g = mk(root, 'line', {x1:xOf(v), x2:xOf(v), y1:T, y2:B, stroke:'#eef0f2', 'stroke-width':0.8});
    
    
    const t = label(root, xOf(v), 711.7, v === 0 ? '0.0' : v.toFixed(1), 9, 'middle');
    
    
  });
  fYTicks.forEach(v => {
    const g = mk(root, 'line', {x1:L, x2:R, y1:yOf(v), y2:yOf(v), stroke:'#eef0f2', 'stroke-width':0.8});
    
    
    const t = label(root, 798.5, yOf(v), v === 0 ? '0.0' : v.toFixed(1), 9, 'end');
    
    
  });
  greySampleCols.forEach((sx, c) => {
    greyGeneCols[c].forEach(gy => {
      const p = mk(root, 'circle', {cx:xOf(sx), cy:yOf(gy), r:1.9, fill:'#d5dbdf'});
      
      
    });
  });
  redSampleDiff.forEach((sx, i) => {
    const p = mk(root, 'circle', {cx:xOf(sx), cy:yOf(redGeneDiff[i]), r:1.9, fill:'#dd1219'});
    
    
  });
  blueSampleDiff.forEach((sx, i) => {
    const p = mk(root, 'circle', {cx:xOf(sx), cy:yOf(blueGeneDiff[i]), r:1.9, fill:'#124a8a'});
    
    
  });
  [-0.1, 0.1].forEach(v => {
    const a = mk(root, 'line', {x1:xOf(v), x2:xOf(v), y1:T, y2:B, stroke:'#111', 'stroke-width':1.7, 'stroke-dasharray':'1.6 3.6'});
    
    
    const b = mk(root, 'line', {x1:806.7, x2:1048, y1:yOf(v), y2:yOf(v), stroke:'#111', 'stroke-width':1.7, 'stroke-dasharray':'1.6 3.6'});
    
    
  });
  const v0 = mk(root, 'line', {x1:xOf(0), x2:xOf(0), y1:T, y2:B, stroke:'#111', 'stroke-width':1.7});
  
  
  const h0 = mk(root, 'line', {x1:L, x2:R, y1:yOf(0), y2:yOf(0), stroke:'#111', 'stroke-width':1.7});
  
  
  const frame = mk(root, 'rect', {x:L, y:T, width:R - L, height:B - T, fill:'none', stroke:'#111', 'stroke-width':1.9});
  
  
  const xt = label(root, 926.7, 725, 'Sample ratio difference', 11.3, 'middle');
  
  
  const yt = label(root, 776.7, 591, 'Gene ratio difference', 11, 'middle', -90);
  
  
  const grp = label(root, 780.7, 736, 'Group', 9);
  
  
  [[818,'#dd1219','Influence_High_Risk'],[908,'#124a8a','Influence_Low_Risk'],[999,'#cdd4d9','Not_significant']].forEach(e => {
    const c = mk(root, 'circle', {cx:e[0], cy:736, r:1.6, fill:e[1]});
    
    
    const t = label(root, e[0] + 4.7, 736, e[2], 6.2);
    
    
  });
})();

/* ---------- Panels G-J stacked bars ---------- */
function drawStacked(root, p) {
  const yOf = v => p.y0 - v * (p.y0 - p.y1);
  const xOf = i => p.first + i * p.step;
  const box = mk(root, 'rect', {x:p.L, y:p.T, width:p.R - p.L, height:p.B - p.T, fill:'#fff', stroke:'#161616', 'stroke-width':2.4});
  
  
  stackTicks.forEach(v => {
    const t = label(root, p.L - 2.5, yOf(v), v.toFixed(2), 7.6, 'end');
    
    
  });
  const yt = label(root, p.L - 29, (p.y0 + p.y1) / 2, 'Percent', 10.3, 'middle', -90);
  
  
  p.cats.forEach((cat, i) => {
    const x = xOf(i) - p.w / 2, low = p.low[i];
    const gap = low > 0 && low < 1 ? 0.9 : 0;
    if (low < 1) {
      const r = mk(root, 'rect', {x:x, y:yOf(1), width:p.w, height:yOf(low) - yOf(1) - gap, fill:RED});
      
      
    }
    if (low > 0) {
      const r = mk(root, 'rect', {x:x, y:yOf(low) + gap, width:p.w, height:yOf(0) - yOf(low) - gap, fill:BLUE});
      
      
    }
    const tick = mk(root, 'line', {x1:xOf(i), x2:xOf(i), y1:p.B, y2:p.B + 2.5, stroke:'#555', 'stroke-width':0.7});
    
    
    const tx = mk(root, 'text', {x:xOf(i) - 24, y:p.B + 10.5, 'font-size':9.7, transform:'rotate(24 ' + (xOf(i) - 24) + ' ' + (p.B + 10.5) + ')'}, cat);
    
    
  });
}
drawStacked(document.getElementById('panelG'), {L:66.5, R:537, T:751.5, B:1049, y0:1036, y1:765, first:90, step:38.5, w:17.2, cats:gCats, low:gLow});
drawStacked(document.getElementById('panelH'), {L:576.5, R:1047.4, T:751.5, B:1049, y0:1036, y1:765, first:602, step:41.96, w:19.6, cats:hCats, low:hLow});
drawStacked(document.getElementById('panelI'), {L:66.5, R:537, T:1122, B:1421, y0:1406.3, y1:1135.7, first:94.3, step:46.05, w:20.7, cats:iCats, low:iLow});
drawStacked(document.getElementById('panelJ'), {L:576.5, R:1047.4, T:1122, B:1421, y0:1406.3, y1:1135.7, first:599.7, step:38.54, w:17.2, cats:jCats, low:jLow});
</script>
</body>
</html>
